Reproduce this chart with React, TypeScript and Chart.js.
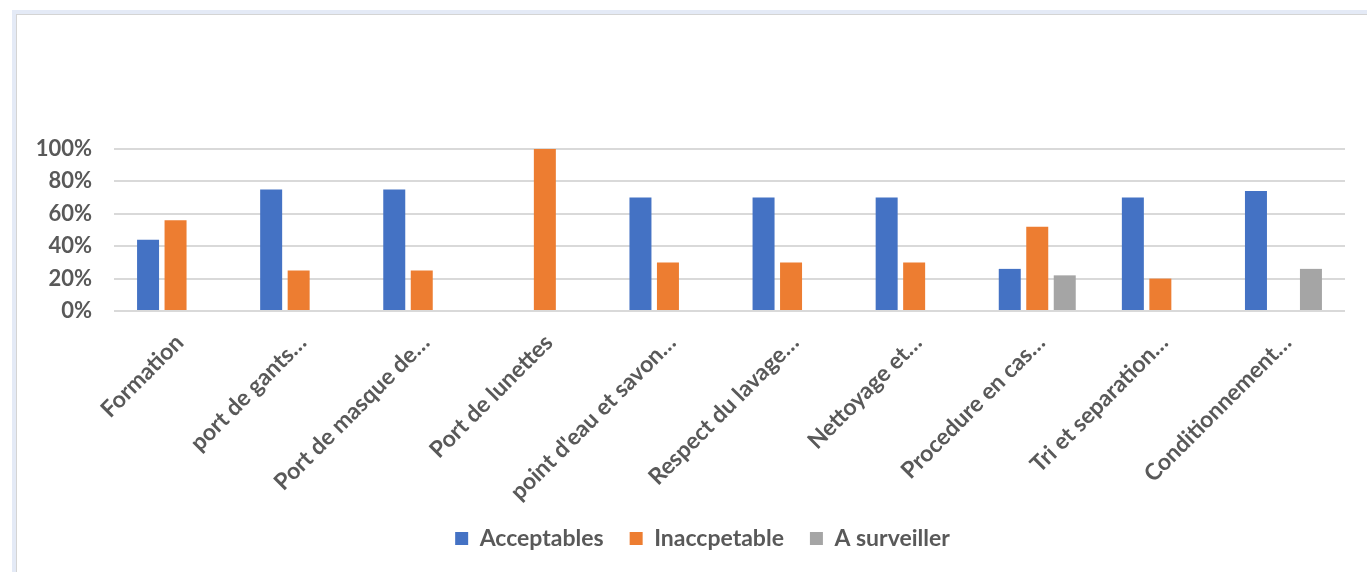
import React, { useEffect, useRef } from "react";
import { Chart, registerables } from "chart.js";

Chart.register(...registerables);

const categories = [
  "Formation",
  "port de gants…",
  "Port de masque de…",
  "Port de lunettes",
  "point d'eau et savon…",
  "Respect du lavage…",
  "Nettoyage et…",
  "Procedure en cas…",
  "Tri et separation…",
  "Conditionnement…",
];

const acceptables = [0.44, 0.75, 0.75, 0, 0.7, 0.7, 0.7, 0.26, 0.7, 0.74];
const inaccpetable = [0.56, 0.25, 0.25, 1.0, 0.3, 0.3, 0.3, 0.52, 0.2, 0];
const aSurveiller = [0, 0, 0, 0, 0, 0, 0, 0.22, 0, 0.26];

const seriesNames = ["Acceptables", "Inaccpetable", "A surveiller"];
const seriesColors = ["#4472C4", "#ED7D31", "#A5A5A5"];

const FONT = "Lato, 'Open Sans', sans-serif";
const TEXT = "#595959";

const legendShift = {
  id: "legendShift",
  afterLayout(chart: any) {
    const l = chart.legend;
    if (l) {
      l.left += 30;
      l.right += 30;
      l.top -= 10;
      l.bottom -= 10;
    }
  },
};

export default function App() {
  const ref = useRef<HTMLCanvasElement | null>(null);

  useEffect(() => {
    document.body.style.margin = "0";
    const ctx = ref.current!.getContext("2d")!;
    const data = [acceptables, inaccpetable, aSurveiller];
    const chart = new Chart(ctx, {
      type: "bar",
      data: {
        labels: categories,
        datasets: data.map((d, i) => ({
          label: seriesNames[i],
          data: d,
          backgroundColor: seriesColors[i],
          borderWidth: 0,
          categoryPercentage: 0.67,
          barPercentage: 0.8,
        })),
      },
      plugins: [legendShift],
      options: {
        animation: false,
        responsive: false,
        devicePixelRatio: 1,
        layout: { padding: { left: 0, right: 22, top: 149, bottom: 2 } },
        plugins: {
          legend: {
            position: "bottom",
            labels: {
              boxWidth: 13,
              boxHeight: 13,
              padding: 26,
              color: TEXT,
              font: { family: FONT, size: 23, weight: "bold" },
            },
          },
          tooltip: { enabled: false },
        },
        scales: {
          x: {
            grid: { display: false, drawTicks: false },
            border: { display: false },
            ticks: {
              color: TEXT,
              font: { family: FONT, size: 23, weight: "bold" },
              maxRotation: 45,
              minRotation: 45,
              autoSkip: false,
              padding: 18,
              labelOffset: 4,
            },
            afterFit: (s: any) => {
              s.height = 200;
            },
          },
          y: {
            min: 0,
            max: 1,
            grid: { color: "#D9D9D9", lineWidth: 2, drawTicks: false },
            border: { display: false },
            ticks: {
              stepSize: 0.2,
              padding: 22,
              color: TEXT,
              font: { family: FONT, size: 22, weight: "bold" },
              callback: (v: any) => Math.round(Number(v) * 100) + "%",
            },
            afterFit: (s: any) => {
              s.width = 114;
            },
          },
        },
      },
    });
    return () => chart.destroy();
  }, []);

  return (
    <div style={{ position: "fixed", left: 0, top: 0, width: 1367, height: 572, background: "#fff" }}>
      <div
        style={{
          position: "absolute",
          left: 12,
          top: 10,
          width: 1400,
          height: 600,
          borderLeft: "4px solid #E4EAF6",
          borderTop: "4px solid #E4EAF6",
        }}
      >
        <div
          style={{
            width: "100%",
            height: "100%",
            borderLeft: "1px solid #D4D4D4",
            borderTop: "1px solid #D4D4D4",
          }}
        />
      </div>
      <canvas
        ref={ref}
        width={1367}
        height={572}
        style={{ position: "absolute", left: 0, top: 0, width: 1367, height: 572 }}
      />
    </div>
  );
}
